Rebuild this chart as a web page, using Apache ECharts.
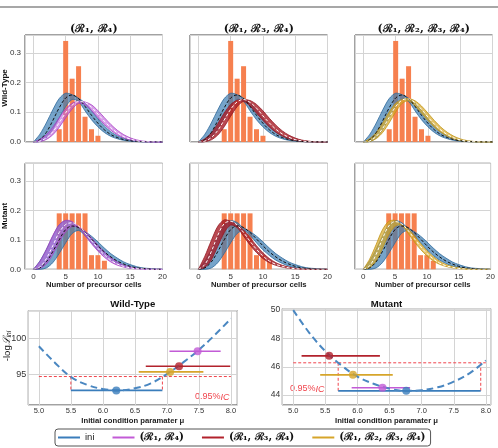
<!DOCTYPE html>
<html><head><meta charset="utf-8">
<script src="https://cdn.jsdelivr.net/npm/echarts@6/dist/echarts.min.js"></script>
<style>html,body{margin:0;padding:0;background:#fff}#c{width:498px;height:448px}</style>
</head><body><div id="c"></div>
<script>
// ---------- data ----------
const cells = [0,1,2,3,4,5,6,7,8,9,10,11,12,13,14,15,16,17,18,19,20];
const wtBins = [4,5,6,7,8,9,10];
const wtFreq = [0.043,0.340,0.213,0.255,0.085,0.043,0.021];
const mutBins = [4,5,6,7,8,9,10,11];
const mutFreq = [0.190,0.190,0.190,0.190,0.190,0.048,0.048,0.029];

// Wild-Type fitted distributions (band low / band high / mean)
const wtIniLo  = [0,.002,.014,.042,.081,.119,.143,.136,.105,.075,.051,.032,.019,.011,.0055,.0028,.0013,.0003,0,0,0];
const wtIniHi  = [0,.026,.064,.108,.146,.164,.159,.147,.131,.106,.078,.054,.034,.021,.012,.0065,.0032,.0016,.0007,0,0];
const wtIniMid = [0,.008,.032,.072,.115,.148,.158,.146,.120,.090,.063,.041,.025,.015,.008,.004,.002,.001,0,0,0];
const wtR14Lo  = [0,.0015,.0085,.024,.0495,.0815,.111,.130,.125,.1055,.082,.059,.0395,.0245,.014,.007,.003,.001,0,0,0];
const wtR14Hi  = [0,.0085,.024,.0495,.0815,.111,.130,.137,.1345,.125,.1055,.082,.059,.0395,.0245,.014,.007,.003,.001,0,0];
const wtR14Mid = [0,.003,.014,.034,.065,.098,.124,.136,.133,.117,.094,.070,.048,.031,.018,.010,.004,.002,0,0,0];
const wtR134Lo  = [0,.001,.0072,.0234,.0513,.0866,.1188,.1365,.1207,.0971,.0724,.0504,.0326,.0199,.0108,.0054,.002,.0004,0,0,0];
const wtR134Hi  = [0,.0108,.0306,.0618,.0974,.1263,.1402,.143,.1395,.1264,.1049,.0796,.0567,.0374,.0232,.0132,.0066,.003,.0007,0,0];
const wtR134Mid = [0,.003,.015,.039,.074,.110,.135,.143,.133,.114,.088,.064,.043,.027,.016,.008,.004,.001,0,0,0];
const wtR1234Lo  = [0,.002,.0115,.0325,.0645,.101,.130,.1385,.121,.097,.072,.050,.0325,.0195,.0105,.005,.002,.0005,0,0,0];
const wtR1234Hi  = [0,.0115,.0325,.0645,.101,.130,.143,.146,.1385,.121,.097,.072,.050,.0325,.0195,.0105,.005,.002,.0005,0,0];
const wtR1234Mid = [0,.004,.019,.046,.083,.119,.141,.145,.132,.110,.084,.060,.040,.025,.014,.007,.003,.001,0,0,0];

// Mutant fitted distributions
const mutIniLo  = [0,0,.0045,.0225,.054,.090,.1215,.132,.115,.090,.066,.047,.031,.020,.011,.0056,.0034,.0011,0,0,0];
const mutIniHi  = [0,.028,.067,.112,.151,.165,.159,.140,.128,.1125,.093,.072,.053,.038,.025,.016,.009,.0045,.0027,.0009,0];
const mutIniMid = [0,.005,.025,.060,.100,.135,.147,.142,.125,.103,.080,.059,.042,.028,.018,.010,.005,.003,.001,0,0];
const mutR14Lo  = [0,.003,.018,.0504,.0921,.1277,.1451,.1425,.1153,.0871,.0618,.0409,.0248,.0141,.0075,.0034,.0015,.0004,0,0,0];
const mutR14Hi  = [0,.0265,.0668,.1145,.1511,.1665,.162,.1444,.1295,.1064,.0814,.0585,.0393,.0243,.0139,.0075,.0036,.0015,.0006,0,0];
const mutR14Mid = [0,.008,.036,.080,.125,.152,.158,.147,.124,.097,.071,.049,.031,.018,.010,.005,.002,.001,0,0,0];
const mutR134Lo  = [0,.0061,.0319,.0779,.1245,.1503,.1418,.1124,.0827,.0569,.0365,.0225,.0134,.0074,.0034,.0015,.0004,0,0,0,0];
const mutR134Hi  = [0,.0445,.0977,.146,.1678,.163,.1499,.133,.1074,.080,.0559,.0363,.0224,.0135,.0076,.0036,.0015,.0006,0,0,0];
const mutR134Mid = [0,.016,.060,.115,.155,.163,.150,.125,.095,.068,.045,.028,.017,.010,.005,.002,.001,0,0,0,0];
const mutR1234Lo  = [0,.0051,.0276,.0702,.1167,.1461,.1501,.1235,.0941,.0676,.0457,.0287,.0169,.0097,.0051,.0021,.0005,0,0,0,0];
const mutR1234Hi  = [0,.0345,.0831,.1336,.163,.1661,.151,.1379,.1145,.0878,.0634,.0432,.0273,.0161,.0093,.005,.0021,.0005,0,0,0];
const mutR1234Mid = [0,.012,.050,.103,.147,.162,.155,.133,.105,.077,.054,.035,.021,.012,.007,.003,.001,0,0,0,0];

const models = ['ini','(ℛ₁, ℛ₄)','(ℛ₁, ℛ₃, ℛ₄)','(ℛ₁, ℛ₂, ℛ₃, ℛ₄)'];
const muGrid = [5.0,5.25,5.5,5.75,6.0,6.25,6.5,6.75,7.0,7.25,7.5,7.75,8.0];
const wtNLL  = [98.9,96.6,94.6,93.5,92.9,92.7,93.0,93.7,95.0,96.6,98.4,100.5,102.8];
const mutNLL = [50.0,48.4,47.1,46.1,45.3,44.8,44.45,44.3,44.35,44.55,44.95,45.55,46.45];
const wtMu  = [6.21,7.48,7.19,7.05];
const wtVal = [92.7,98.2,96.1,95.3];
const wtLo  = [5.50,7.04,6.67,6.56];
const wtHi  = [6.93,7.84,7.99,7.57];
const wtCI = 94.65;
const mutMu  = [6.76,6.39,5.56,5.93];
const mutVal = [44.3,44.52,46.77,45.43];
const mutLo  = [5.70,5.91,5.13,5.42];
const mutHi  = [7.92,6.82,6.35,6.55];
const mutCI = 46.28;

// ---------- styles ----------
const SANS = 'Liberation Sans, Arial, sans-serif';
const SERIF = 'DejaVu Serif, serif';
const modelColor = ['#3a7dbb','#c25bd6','#b2222c','#d6a52a'];
const bandFill = ['rgba(60,125,180,0.70)','rgba(190,95,220,0.62)','rgba(168,28,38,0.80)','rgba(215,168,38,0.70)'];
const bandEdge = ['#2f6a9c','#a63fc2','#941822','#c29415'];
const barColor = '#f6804f';

const chart = echarts.init(document.getElementById('c'), null, {renderer:'canvas'});

const topGrids = [
  {left:25, top:35, width:137.5, height:107},
  {left:190, top:35, width:137.5, height:107},
  {left:355, top:35, width:137.5, height:107},
  {left:25, top:163.3, width:137.5, height:106},
  {left:190, top:163.3, width:137.5, height:106},
  {left:355, top:163.3, width:137.5, height:106}
];
const botGrids = [
  {left:28.3, top:310.7, width:209, height:94.3},
  {left:282.3, top:308.7, width:208.4, height:96.3}
];
const grid = topGrids.concat(botGrids).map(g => Object.assign({show:true, borderColor:'#444', borderWidth:1, backgroundColor:'transparent', containLabel:false}, g));

const splitLine = {show:true, lineStyle:{color:'#d4d4d4', width:1}};
const isMult = (v, s) => Math.abs(v/s - Math.round(v/s)) < 1e-6;

const xAxis = [], yAxis = [];
for (let i = 0; i < 6; i++) {
  const bottom = i >= 3;
  xAxis.push({type:'value', gridIndex:i, min:-1.3, max:20, splitNumber:5,
    axisLine:{show:false}, axisTick:{show:false}, splitLine,
    axisLabel:{show:bottom, margin:3, fontSize:8, color:'#333', fontFamily:SANS,
      formatter: v => isMult(v,5) ? String(Math.round(v)) : ''},
    name: bottom ? 'Number of precursor cells' : '', nameLocation:'middle', nameGap:12,
    nameTextStyle:{fontFamily:SANS, fontWeight:'bold', fontSize:7.7, color:'#222'}});
  yAxis.push({type:'value', gridIndex:i, min:0, max:0.36, splitNumber:4,
    axisLine:{show:false}, axisTick:{show:false}, splitLine,
    axisLabel:{show: i === 0 || i === 3, margin:4, fontSize:8, color:'#333', fontFamily:SANS,
      formatter: v => isMult(v,0.1) ? v.toFixed(1) : ''}});
}
xAxis.push({type:'value', gridIndex:6, min:4.835, max:8.1, splitNumber:7,
  axisLine:{show:false}, axisTick:{show:false}, splitLine,
  axisLabel:{margin:2, fontSize:7.5, color:'#333', fontFamily:SANS, formatter: v => isMult(v,0.5) ? v.toFixed(1) : ''},
  name:'Initial condition paramater μ', nameLocation:'middle', nameGap:12,
  nameTextStyle:{fontFamily:SANS, fontWeight:'bold', fontSize:7.7, color:'#222'}});
yAxis.push({type:'value', gridIndex:6, min:90.65, max:103.9, splitNumber:3,
  axisLine:{show:false}, axisTick:{show:false}, splitLine,
  axisLabel:{margin:2, fontSize:9, color:'#333', fontFamily:SANS, formatter: v => isMult(v,5) ? String(Math.round(v)) : ''}});
xAxis.push({type:'value', gridIndex:7, min:4.83, max:8.075, splitNumber:7,
  axisLine:{show:false}, axisTick:{show:false}, splitLine,
  axisLabel:{margin:2, fontSize:7.5, color:'#333', fontFamily:SANS, formatter: v => isMult(v,0.5) ? v.toFixed(1) : ''},
  name:'Initial condition paramater μ', nameLocation:'middle', nameGap:12,
  nameTextStyle:{fontFamily:SANS, fontWeight:'bold', fontSize:7.7, color:'#222'}});
yAxis.push({type:'value', gridIndex:7, min:43.3, max:50.1, splitNumber:3,
  axisLine:{show:false}, axisTick:{show:false}, splitLine,
  axisLabel:{margin:2, fontSize:8.5, color:'#333', fontFamily:SANS, formatter: v => isMult(v,2) ? String(Math.round(v)) : ''}});

const series = [];
const pairs = (xs, ys) => xs.map((x, i) => [x, ys[i]]);

function addBand(gi, lo, hi, k) {
  series.push({type:'custom', xAxisIndex:gi, yAxisIndex:gi, silent:true, z:3,
    data: pairs(cells, hi), encode:{x:0, y:1},
    renderItem: (params, api) => {
      if (params.dataIndex !== 0) return null;
      const L = cells.map((x, i) => api.coord([x, lo[i]]));
      const H = cells.map((x, i) => api.coord([x, hi[i]]));
      const poly = L.concat(H.slice().reverse());
      return {type:'group', children:[
        {type:'polygon', shape:{points:poly, smooth:0.3}, style:{fill:bandFill[k], stroke:null}},
        {type:'polyline', shape:{points:L, smooth:0.3}, style:{stroke:bandEdge[k], lineWidth:0.8, fill:null}},
        {type:'polyline', shape:{points:H, smooth:0.3}, style:{stroke:bandEdge[k], lineWidth:0.8, fill:null}}
      ]};
    }});
}
function addMean(gi, mid, color) {
  series.push({type:'line', xAxisIndex:gi, yAxisIndex:gi, smooth:0.35, symbol:'none', silent:true,
    data: pairs(cells, mid), lineStyle:{color, width:1, type:[3,2]}, z:5});
}

const topPanels = [
  {bins:wtBins, freq:wtFreq, ini:[wtIniLo,wtIniHi,wtIniMid], m:[wtR14Lo,wtR14Hi,wtR14Mid], k:1},
  {bins:wtBins, freq:wtFreq, ini:[wtIniLo,wtIniHi,wtIniMid], m:[wtR134Lo,wtR134Hi,wtR134Mid], k:2},
  {bins:wtBins, freq:wtFreq, ini:[wtIniLo,wtIniHi,wtIniMid], m:[wtR1234Lo,wtR1234Hi,wtR1234Mid], k:3},
  {bins:mutBins, freq:mutFreq, ini:[mutIniLo,mutIniHi,mutIniMid], m:[mutR14Lo,mutR14Hi,mutR14Mid], k:1},
  {bins:mutBins, freq:mutFreq, ini:[mutIniLo,mutIniHi,mutIniMid], m:[mutR134Lo,mutR134Hi,mutR134Mid], k:2},
  {bins:mutBins, freq:mutFreq, ini:[mutIniLo,mutIniHi,mutIniMid], m:[mutR1234Lo,mutR1234Hi,mutR1234Mid], k:3}
];
topPanels.forEach((p, gi) => {
  series.push({type:'bar', xAxisIndex:gi, yAxisIndex:gi, barWidth:5, silent:true,
    data: pairs(p.bins, p.freq), itemStyle:{color:barColor}, z:2});
  addBand(gi, p.ini[0], p.ini[1], 0);
  addBand(gi, p.m[0], p.m[1], p.k);
  addMean(gi, p.ini[2], '#111');
  addMean(gi, p.m[2], '#ffffff');
});

function addLik(gi, nll, mu, val, lo, hi, ci) {
  series.push({type:'line', xAxisIndex:gi, yAxisIndex:gi, smooth:0.4, symbol:'none', silent:true,
    data: pairs(muGrid, nll), lineStyle:{color:'#4a87c1', width:2, type:[7,4]}, z:6});
  const ciStyle = {color:'#f0454d', width:1, type:[3,2]};
  series.push({type:'line', xAxisIndex:gi, yAxisIndex:gi, symbol:'none', silent:true,
    data: [[muGrid[0], ci],[muGrid[muGrid.length-1], ci]], lineStyle:ciStyle, z:3});
  series.push({type:'line', xAxisIndex:gi, yAxisIndex:gi, symbol:'none', silent:true,
    data: [[lo[0], ci],[lo[0], val[0]]], lineStyle:ciStyle, z:3});
  series.push({type:'line', xAxisIndex:gi, yAxisIndex:gi, symbol:'none', silent:true,
    data: [[hi[0], ci],[hi[0], val[0]]], lineStyle:ciStyle, z:3});
  for (let k = 0; k < models.length; k++) {
    series.push({type:'line', name:models[k], xAxisIndex:gi, yAxisIndex:gi, symbol:'none',
      data: [[lo[k], val[k]],[hi[k], val[k]]], lineStyle:{color:modelColor[k], width:1.6},
      itemStyle:{color:modelColor[k]}, z:4});
    series.push({type:'scatter', xAxisIndex:gi, yAxisIndex:gi, symbolSize:8,
      data: [[mu[k], val[k]]], itemStyle:{color:modelColor[k]}, z:7});
  }
}
addLik(6, wtNLL, wtMu, wtVal, wtLo, wtHi, wtCI);
addLik(7, mutNLL, mutMu, mutVal, mutLo, mutHi, mutCI);

const titleFont = 'bold 11px ' + SERIF;
const txt = (x, y, text, font, extra) => Object.assign({type:'text', x, y, silent:true,
  style:{text, font, fill:'#111', textAlign:'center', textVerticalAlign:'middle'}}, extra || {});

const graphic = [
  {type:'line', silent:true, shape:{x1:0, y1:7, x2:498, y2:7}, style:{stroke:'#8a8a8a', lineWidth:1.5}},
  txt(93.75, 29, models[1], titleFont),
  txt(258.75, 29, models[2], titleFont),
  txt(423.75, 29, models[3], titleFont),
  txt(132.8, 304, 'Wild-Type', 'bold 9.6px ' + SANS),
  txt(386.5, 304, 'Mutant', 'bold 9.6px ' + SANS),
  txt(5, 88, 'Wild-Type', 'bold 8px ' + SANS, {rotation:Math.PI/2}),
  txt(5, 216, 'Mutant', 'bold 8px ' + SANS, {rotation:Math.PI/2}),
  {type:'text', x:7, y:346, rotation:Math.PI/2, silent:true,
    style:{text:'{a|-log}{b|ℒ}{c|ini}', textAlign:'center', textVerticalAlign:'middle',
      rich:{a:{font:'9.5px ' + SANS, fill:'#111'}, b:{font:'italic 10px ' + SERIF, fill:'#111'},
        c:{font:'italic 6.5px ' + SANS, fill:'#111', padding:[5,0,0,0]}}}},
  {type:'text', x:195, y:397, silent:true,
    style:{text:'{a|0.95%}{b|IC}', textVerticalAlign:'middle',
      rich:{a:{font:'9px ' + SANS, fill:'#f0454d'}, b:{font:'italic 9px ' + SANS, fill:'#f0454d'}}}},
  {type:'text', x:290, y:389, silent:true,
    style:{text:'{a|0.95%}{b|IC}', textVerticalAlign:'middle',
      rich:{a:{font:'9px ' + SANS, fill:'#f0454d'}, b:{font:'italic 9px ' + SANS, fill:'#f0454d'}}}}
];

chart.setOption({
  animation:false,
  backgroundColor:'#ffffff',
  grid, xAxis, yAxis, series, graphic,
  legend:{
    left:55, top:429, orient:'horizontal',
    padding:[3,5,3,3], borderColor:'#555', borderWidth:1, borderRadius:3,
    itemWidth:22, itemHeight:2, itemGap:18,
    data: models.map((m, k) => ({name:m, icon:'rect', itemStyle:{color:modelColor[k]}})),
    formatter: name => name === 'ini' ? '{s|ini}' : '{m|' + name + '}',
    textStyle:{rich:{
      s:{fontFamily:SANS, fontSize:9.5, color:'#222'},
      m:{fontFamily:SERIF, fontWeight:'bold', fontSize:10.5, color:'#111'}}}
  }
});
</script></body></html>
